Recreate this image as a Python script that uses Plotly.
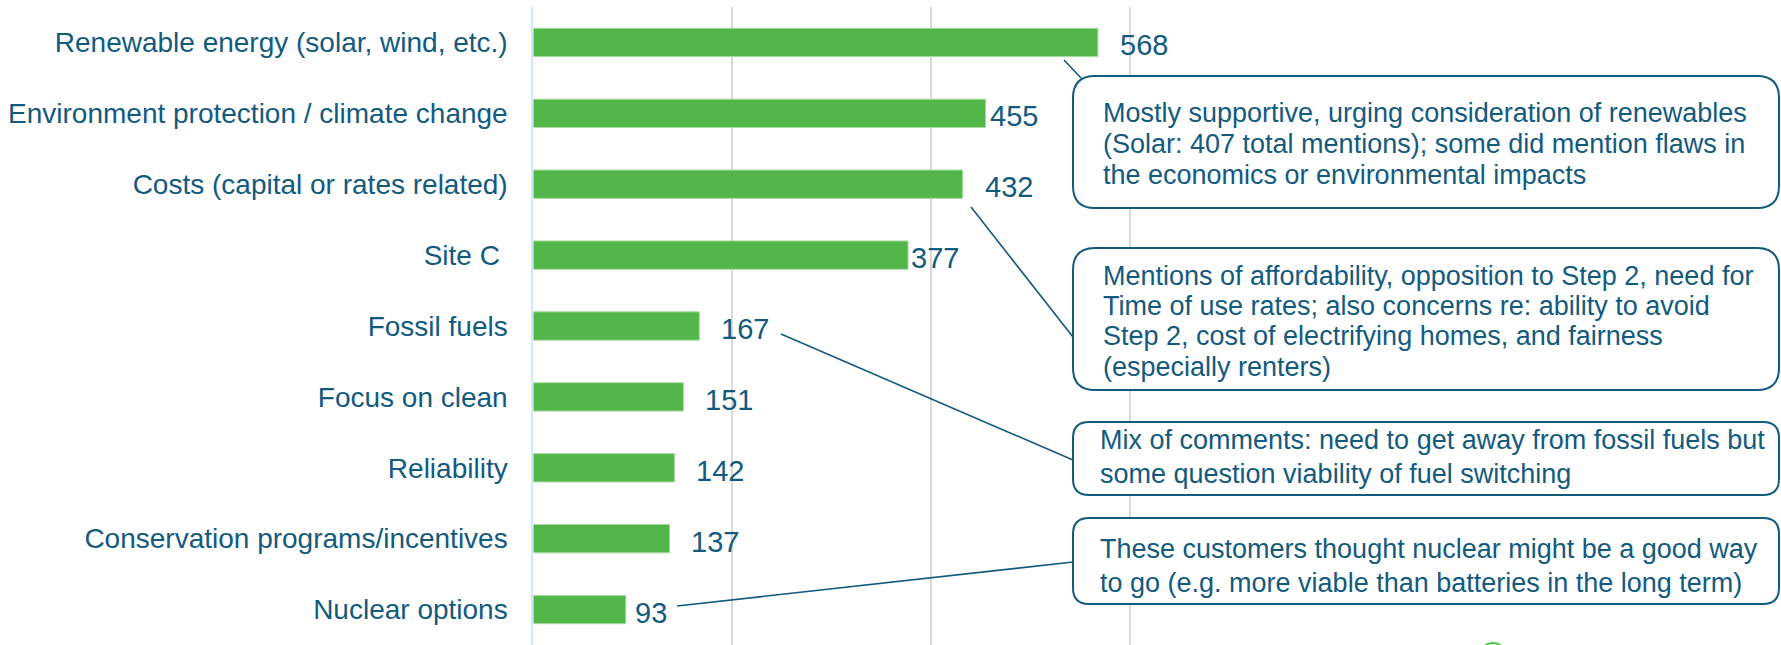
import plotly.graph_objects as go

categories = [
    "Renewable energy (solar, wind, etc.)",
    "Environment protection / climate change",
    "Costs (capital or rates related)",
    "Site C ",
    "Fossil fuels",
    "Focus on clean",
    "Reliability",
    "Conservation programs/incentives",
    "Nuclear options",
]
values = [568, 455, 432, 377, 167, 151, 142, 137, 93]
label_shift = [20, 2, 20, 1, 20, 20, 20, 20, 7]

callout_lines = [
    ["Mostly supportive, urging consideration of renewables",
     "(Solar: 407 total mentions); some did mention flaws in",
     "the economics or environmental impacts"],
    ["Mentions of affordability, opposition to Step 2, need for",
     "Time of use rates; also concerns re: ability to avoid",
     "Step 2, cost of electrifying homes, and fairness",
     "(especially renters)"],
    ["Mix of comments: need to get away from fossil fuels but",
     "some question viability of fuel switching"],
    ["These customers thought nuclear might be a good way",
     "to go (e.g. more viable than batteries in the long term)"],
]

W, H = 1781, 645
TEXT = "#135A7F"
GREEN = "#52B748"
FONT = "Liberation Sans, Arial, sans-serif"


def px(x):
    return x / W


def py(y):
    return 1 - y / H


x0_pix = 533.3
ppu = 0.994
xmax = 700

fig = go.Figure()
fig.add_trace(go.Bar(
    x=values, y=categories, orientation="h",
    marker=dict(color=GREEN, line=dict(color="#A8DBA3", width=1)),
    width=0.4, hoverinfo="x+y",
))

annotations = []
for c, v, s in zip(categories, values, label_shift):
    annotations.append(dict(
        x=v, y=c, xref="x", yref="y", text=str(v), showarrow=False,
        xanchor="left", yanchor="middle", xshift=s, yshift=-3,
        font=dict(family=FONT, size=29, color=TEXT),
    ))

# callout boxes (pixel geometry)
boxes = [
    (1073, 76, 1779, 208, 22),
    (1073, 248, 1779, 390, 22),
    (1073, 422, 1779, 495, 16),
    (1073, 518, 1779, 604, 16),
]
line_y = [
    [113, 144, 175],
    [276, 306, 336, 367],
    [440, 474],
    [549, 583],
]
text_x = [1101, 1101, 1098, 1098]

shapes = []
for (bx0, by0, bx1, by1, r) in boxes:
    rx, ry = r, r
    path = (
        f"M {px(bx0+rx)},{py(by0)} L {px(bx1-rx)},{py(by0)} "
        f"Q {px(bx1)},{py(by0)} {px(bx1)},{py(by0+ry)} "
        f"L {px(bx1)},{py(by1-ry)} Q {px(bx1)},{py(by1)} {px(bx1-rx)},{py(by1)} "
        f"L {px(bx0+rx)},{py(by1)} Q {px(bx0)},{py(by1)} {px(bx0)},{py(by1-ry)} "
        f"L {px(bx0)},{py(by0+ry)} Q {px(bx0)},{py(by0)} {px(bx0+rx)},{py(by0)} Z"
    )
    shapes.append(dict(type="path", path=path, xref="paper", yref="paper",
                       line=dict(color=TEXT, width=2), fillcolor="white",
                       layer="above"))

connectors = [
    (1064, 60, 1081, 78),
    (971, 207, 1073, 337),
    (781, 334, 1073, 460),
    (677, 606, 1073, 562),
]
for (a, b, c, d) in connectors:
    shapes.append(dict(type="line", xref="paper", yref="paper",
                       x0=px(a), y0=py(b), x1=px(c), y1=py(d),
                       line=dict(color=TEXT, width=1.6), layer="above"))

# small partially visible logo ring at bottom edge
shapes.append(dict(type="circle", xref="paper", yref="paper",
                   x0=px(1479), x1=px(1507), y0=py(643), y1=py(671),
                   line=dict(color="#4CC13C", width=2), layer="above"))

for lines, ys, tx in zip(callout_lines, line_y, text_x):
    for t, yy in zip(lines, ys):
        annotations.append(dict(
            x=px(tx), y=py(yy), xref="paper", yref="paper", text=t,
            showarrow=False, xanchor="left", yanchor="middle",
            font=dict(family=FONT, size=27, color=TEXT),
        ))

fig.update_layout(
    width=W, height=H,
    margin=dict(l=0, r=0, t=0, b=0),
    plot_bgcolor="white", paper_bgcolor="white",
    showlegend=False,
    bargap=0.6,
    xaxis=dict(domain=[px(x0_pix), px(x0_pix + xmax * ppu)], range=[0, xmax],
               dtick=200, showgrid=True, gridcolor="#D9D9D9", gridwidth=2,
               showticklabels=False, zeroline=False, showline=False),
    yaxis=dict(domain=[0, py(7)], type="category", range=[8.5, -0.5],
               showline=True, linecolor="#CBEDFB", linewidth=2,
               showgrid=False, ticks="", ticklabelstandoff=18,
               tickfont=dict(family=FONT, size=28, color=TEXT)),
    annotations=annotations,
    shapes=shapes,
)

fig.write_html("out.html",
               config={"displayModeBar": False},
               post_script="document.body.style.margin='0px';document.body.style.overflow='hidden';")
